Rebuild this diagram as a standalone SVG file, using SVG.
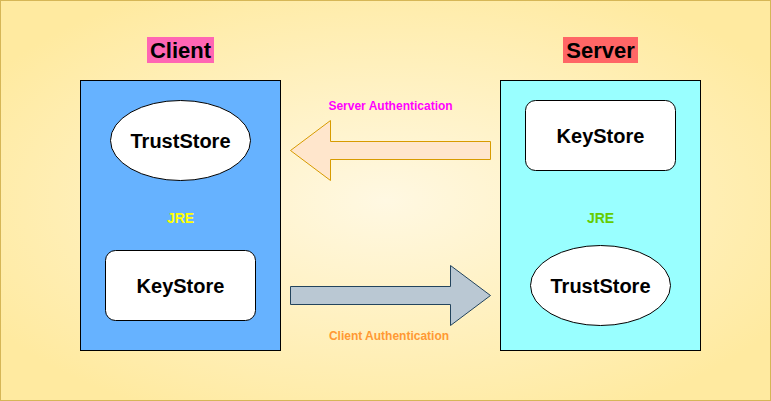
<svg xmlns="http://www.w3.org/2000/svg" width="771" height="401" viewBox="0 0 771 401">
<style>
text{font-family:"Liberation Sans",Arial,sans-serif;font-weight:bold;text-anchor:middle}
.title{font-size:22px;fill:#000}
.store{font-size:20px;fill:#000}
.jre{font-size:14px}
.lbl{font-size:12px}
.box{stroke:#000;stroke-width:1}
.inner{fill:#fff;stroke:#000;stroke-width:1}
</style>
<defs>
<radialGradient id="bg" cx="50%" cy="50%" r="60%">
<stop offset="0" stop-color="#fff8e2"/>
<stop offset="1" stop-color="#ffeaa0"/>
</radialGradient>
</defs>
<rect x="0.5" y="0.5" width="770" height="400" fill="url(#bg)" stroke="#d6b656"/>
<g id="client-title"><rect x="147" y="37" width="67" height="26" fill="#ff66b3"/><text class="title" x="180.5" y="58">Client</text></g>
<g id="server-title"><rect x="563" y="37" width="75" height="26" fill="#ff6666"/><text class="title" x="600.5" y="58">Server</text></g>
<g id="client-jre"><rect class="box" x="80.5" y="80.5" width="200" height="270" fill="#66b2ff"/><text class="jre" x="180.5" y="223" fill="#ffff00">JRE</text></g>
<g id="client-truststore"><ellipse class="inner" cx="180.5" cy="140.5" rx="70" ry="40"/><text class="store" x="180.5" y="148">TrustStore</text></g>
<g id="client-keystore"><rect class="inner" x="105.5" y="250.5" width="150" height="70" rx="10"/><text class="store" x="180.5" y="293">KeyStore</text></g>
<g id="server-jre"><rect class="box" x="500.5" y="80.5" width="200" height="270" fill="#99ffff"/><text class="jre" x="600.5" y="223" fill="#66cc00">JRE</text></g>
<g id="server-keystore"><rect class="inner" x="525.5" y="100.5" width="150" height="70" rx="10"/><text class="store" x="600.5" y="143">KeyStore</text></g>
<g id="server-truststore"><ellipse class="inner" cx="600.5" cy="285.5" rx="70" ry="40"/><text class="store" x="600.5" y="293">TrustStore</text></g>
<g id="connectors">
<polygon points="290.5,150.5 330.5,120.5 330.5,141.5 490.5,141.5 490.5,159.5 330.5,159.5 330.5,180.5" fill="#ffe6cc" stroke="#d79b00"/>
<polygon points="490.5,295.5 450.5,265.5 450.5,286.5 290.5,286.5 290.5,304.5 450.5,304.5 450.5,325.5" fill="#bac8d3" stroke="#23445d"/>
<text class="lbl" x="390.5" y="110" fill="#ff00ff">Server Authentication</text>
<text class="lbl" x="389" y="340" fill="#ff9933">Client Authentication</text>
</g>
</svg>
